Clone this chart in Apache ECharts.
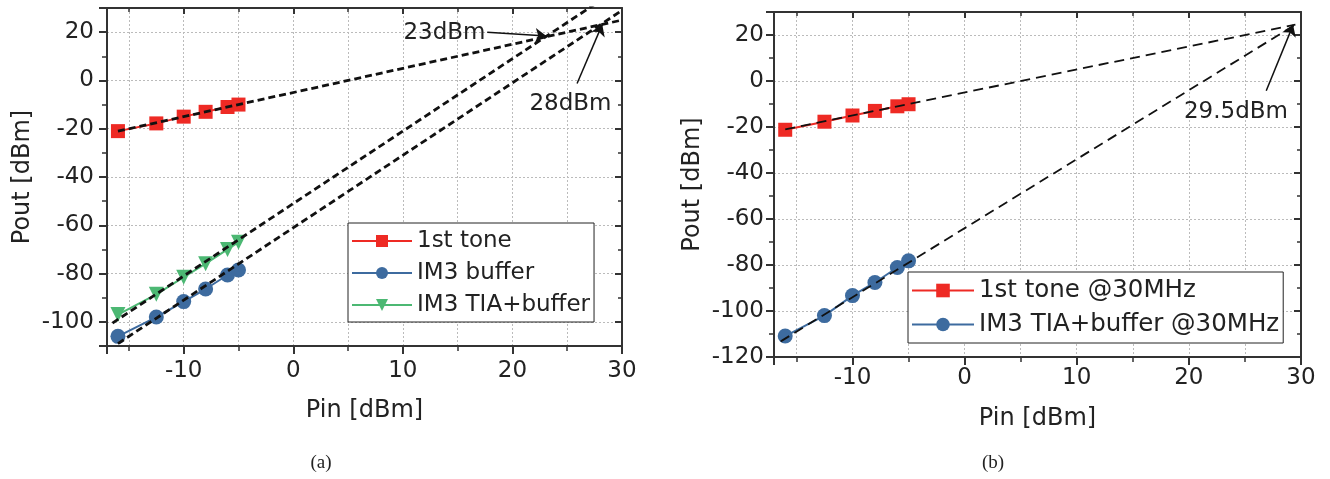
<!DOCTYPE html>
<html>
<head>
<meta charset="utf-8">
<title>Pout vs Pin</title>
<script src="https://cdn.jsdelivr.net/npm/echarts@6/dist/echarts.min.js"></script>
<style>
  html, body { margin: 0; padding: 0; background: #fff; }
  #main { width: 1330px; height: 479px; }
</style>
</head>
<body>
<div id="main"></div>
<script>
// input power (dBm), same sweep for all measured series
const pin = [-16, -12.5, -10, -8, -6, -5];

// (a) measured output (dBm)
const toneA = [-21, -17.8, -15, -13, -11, -10];
const im3BufA = [-106, -98, -91.6, -86.4, -80.6, -78.5];
const im3TiaA = [-97, -88.6, -81.5, -75.9, -70, -67];

// (a) extrapolated fits, end points [Pin, Pout]
const fitToneA = [[-16, -21], [30, 25]];
const fitTiaA = [[-16.5, -100.5], [30, 39]];
const fitBufA = [[-16, -109], [30, 29]];

// (b) measured output (dBm) @30MHz
const toneB = [-21.2, -17.7, -15, -13, -11, -10.1];
const im3TiaB = [-110.9, -102, -93.3, -87.6, -81.1, -78.2];

// (b) extrapolated fits
const fitToneB = [[-16, -21], [29.5, 24.5]];
const fitTiaB = [[-16.4, -113.2], [29.5, 24.5]];

const FONT = 'DejaVu Sans';
const INK = '#222';
const FRAME = '#333';
const RED = '#ee2a24';
const BLUE = '#3d6b9f';
const GREEN = '#4cb873';

const zip = (xs, ys) => xs.map((x, i) => [x, ys[i]]);

// 1 axis helpers (bottom/left carry labels, top/right are mirrored frames)
function xBottom(g, labelMargin, nameGap) {
  return {
    gridIndex: g, type: 'value', position: 'bottom', min: -17, max: 30, splitNumber: 5,
    axisLine: { show: true, onZero: false, lineStyle: { color: FRAME, width: 2 } },
    axisTick: { show: true, inside: false, length: 8, lineStyle: { color: FRAME, width: 2 } },
    minorTick: { show: true, splitNumber: 2, length: 5, lineStyle: { color: FRAME, width: 1.5 } },
    axisLabel: { showMinLabel: false, showMaxLabel: true, margin: labelMargin, fontSize: 23, color: INK, fontFamily: FONT },
    splitLine: { show: true, lineStyle: { color: '#bbb', type: [2, 2], width: 1 } },
    minorSplitLine: { show: true, lineStyle: { color: '#bbb', type: [2, 2], width: 1 } },
    name: 'Pin [dBm]', nameLocation: 'middle', nameGap: nameGap,
    nameTextStyle: { fontSize: 24, color: INK, fontFamily: FONT }
  };
}
function xTop(g) {
  return {
    gridIndex: g, type: 'value', position: 'top', min: -17, max: 30, splitNumber: 5,
    axisLine: { show: true, onZero: false, lineStyle: { color: FRAME, width: 2 } },
    axisTick: { show: true, inside: true, length: 6, lineStyle: { color: FRAME, width: 2 } },
    minorTick: { show: true, splitNumber: 2, length: 4, lineStyle: { color: FRAME, width: 1.5 } },
    axisLabel: { show: false },
    splitLine: { show: false }
  };
}
function yLeft(g, min, labelMargin, nameGap) {
  return {
    gridIndex: g, type: 'value', position: 'left', min: min, max: 30, splitNumber: 7,
    axisLine: { show: true, onZero: false, lineStyle: { color: FRAME, width: 2 } },
    axisTick: { show: true, inside: false, length: 8, lineStyle: { color: FRAME, width: 2 } },
    minorTick: { show: true, splitNumber: 2, length: 5, lineStyle: { color: FRAME, width: 1.5 } },
    axisLabel: { showMinLabel: min % 20 === 0, showMaxLabel: false, margin: labelMargin, fontSize: 23, color: INK, fontFamily: FONT },
    splitLine: { show: true, lineStyle: { color: '#bbb', type: [2, 2], width: 1 } },
    name: 'Pout [dBm]', nameLocation: 'middle', nameGap: nameGap,
    nameTextStyle: { fontSize: 24, color: INK, fontFamily: FONT }
  };
}
function yRight(g, min) {
  return {
    gridIndex: g, type: 'value', position: 'right', min: min, max: 30, splitNumber: 7,
    axisLine: { show: true, onZero: false, lineStyle: { color: FRAME, width: 2 } },
    axisTick: { show: true, inside: true, length: 7, lineStyle: { color: FRAME, width: 2 } },
    minorTick: { show: true, splitNumber: 2, length: 4, lineStyle: { color: FRAME, width: 1.5 } },
    axisLabel: { show: false },
    splitLine: { show: false }
  };
}

function measured(name, g, data, color, symbol, size, rotate) {
  return {
    name: name, type: 'line', xAxisIndex: g * 2, yAxisIndex: g * 2, data: data,
    symbol: symbol, symbolSize: size, symbolRotate: rotate || 0,
    itemStyle: { color: color }, lineStyle: { color: color, width: 2 }, z: 2
  };
}
function fit(g, data, width, dash, extra) {
  return Object.assign({
    type: 'line', xAxisIndex: g * 2, yAxisIndex: g * 2, data: data,
    symbol: 'none', silent: true, z: 4,
    lineStyle: { color: '#111', width: width, type: dash }
  }, extra || {});
}
function arrow(from, to) {
  return [{ coord: from }, { coord: to }];
}
function note(text, at) {
  return {
    coord: at, symbol: 'circle', symbolSize: 0,
    label: { show: true, position: 'inside', formatter: text, fontSize: 23, color: INK, fontFamily: FONT }
  };
}
const arrowLine = {
  silent: true, symbol: ['none', 'arrow'], symbolSize: 11,
  label: { show: false }, lineStyle: { color: '#111', width: 1.5, type: 'solid' }
};

const dom = document.getElementById('main');
const myEchart = echarts.init(dom);

const option = {
  animation: false,
  backgroundColor: '#fff',
  grid: [
    { left: 107, top: 8, width: 515, height: 338, outerBoundsMode: 'none' },
    { left: 774, top: 12, width: 527, height: 345, outerBoundsMode: 'none' }
  ],
  xAxis: [xBottom(0, 14, 53), xTop(0), xBottom(1, 10, 50), xTop(1)],
  yAxis: [yLeft(0, -110, 13, 72), yRight(0, -110), yLeft(1, -120, 10, 69), yRight(1, -120)],
  legend: [
    {
      data: ['1st tone', 'IM3 buffer', 'IM3 TIA+buffer'],
      orient: 'vertical', left: 348, top: 223, selectedMode: false,
      backgroundColor: '#fff', borderColor: INK, borderWidth: 1, borderRadius: 0,
      padding: [6, 4, 5, 3], itemGap: 8, itemWidth: 60, itemHeight: 15,
      textStyle: { fontSize: 23, lineHeight: 24, color: INK, fontFamily: FONT }
    },
    {
      data: ['1st tone @30MHz', 'IM3 TIA+buffer @30MHz'],
      orient: 'vertical', left: 908, top: 272, selectedMode: false,
      backgroundColor: '#fff', borderColor: INK, borderWidth: 1, borderRadius: 0,
      padding: [6, 4, 6, 3], itemGap: 9, itemWidth: 62, itemHeight: 17,
      textStyle: { fontSize: 24.5, lineHeight: 25, color: INK, fontFamily: FONT }
    }
  ],
  series: [
    measured('1st tone', 0, zip(pin, toneA), RED, 'rect', 14),
    measured('IM3 buffer', 0, zip(pin, im3BufA), BLUE, 'circle', 15),
    measured('IM3 TIA+buffer', 0, zip(pin, im3TiaA), GREEN, 'triangle', 15, 180),
    fit(0, fitToneA, 2.8, [7, 4], {
      markLine: Object.assign({ data: [arrow([17.7, 20], [23.1, 18.4]), arrow([25.9, -1.3], [28.2, 23.2])] }, arrowLine),
      markPoint: { silent: true, data: [note('23dBm', [13.8, 19.8]), note('28dBm', [25.3, -9.6])] }
    }),
    fit(0, fitTiaA, 2.8, [7, 4]),
    fit(0, fitBufA, 2.8, [7, 4]),

    measured('1st tone @30MHz', 1, zip(pin, toneB), RED, 'rect', 14),
    measured('IM3 TIA+buffer @30MHz', 1, zip(pin, im3TiaB), BLUE, 'circle', 15),
    fit(1, fitToneB, 1.8, [10, 6], {
      markLine: Object.assign({ data: [arrow([26.9, -4.2], [29.3, 24.4])] }, arrowLine),
      markPoint: { silent: true, data: [note('29.5dBm', [24.2, -13.6])] }
    }),
    fit(1, fitTiaB, 1.8, [10, 6])
  ],
  graphic: [
    { type: 'text', x: 321, y: 463, style: { text: '(a)', fontSize: 19, fontFamily: 'Liberation Serif', fill: INK, textAlign: 'center', textVerticalAlign: 'middle' } },
    { type: 'text', x: 993, y: 463, style: { text: '(b)', fontSize: 19, fontFamily: 'Liberation Serif', fill: INK, textAlign: 'center', textVerticalAlign: 'middle' } }
  ]
};

myEchart.setOption(option, true);
</script>
</body>
</html>
